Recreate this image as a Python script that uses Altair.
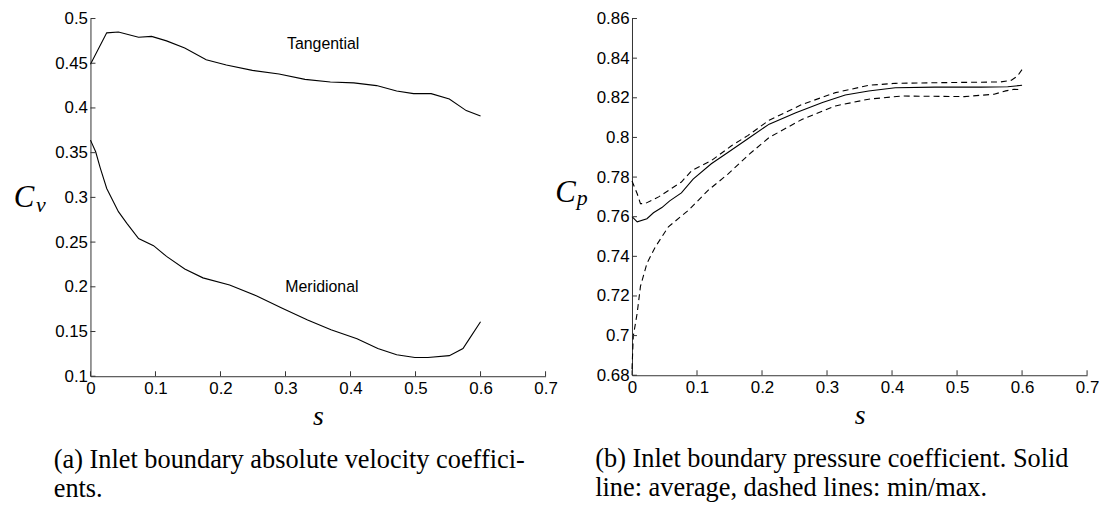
import altair as alt
import pandas as pd

# ---------------- data ----------------
S_TICKS = [0, 0.1, 0.2, 0.3, 0.4, 0.5, 0.6, 0.7]
CV_TICKS = [0.1, 0.15, 0.2, 0.25, 0.3, 0.35, 0.4, 0.45, 0.5]
CP_TICKS = [0.68, 0.7, 0.72, 0.74, 0.76, 0.78, 0.8, 0.82, 0.84, 0.86]

tan_s = [0, 0.025, 0.043, 0.074, 0.094, 0.117, 0.145, 0.178, 0.209, 0.249, 0.290,
         0.330, 0.369, 0.405, 0.440, 0.471, 0.497, 0.524, 0.552, 0.578, 0.600]
tan_v = [0.449, 0.484, 0.485, 0.479, 0.480, 0.475, 0.467, 0.454, 0.448, 0.442, 0.438,
         0.432, 0.429, 0.428, 0.425, 0.419, 0.416, 0.416, 0.410, 0.397, 0.391]

mer_s = [0, 0.008, 0.015, 0.025, 0.043, 0.056, 0.074, 0.097, 0.117, 0.145, 0.173,
         0.214, 0.255, 0.295, 0.334, 0.370, 0.410, 0.442, 0.471, 0.499, 0.519,
         0.552, 0.573, 0.583, 0.600]
mer_v = [0.364, 0.351, 0.333, 0.310, 0.284, 0.271, 0.254, 0.246, 0.234, 0.220, 0.210,
         0.202, 0.190, 0.176, 0.163, 0.152, 0.142, 0.131, 0.124, 0.121, 0.121,
         0.123, 0.131, 0.142, 0.161]

avg_s = [0, 0.008, 0.023, 0.033, 0.046, 0.058, 0.076, 0.094, 0.122, 0.148, 0.181,
         0.211, 0.252, 0.293, 0.328, 0.364, 0.405, 0.466, 0.537, 0.578, 0.600]
avg_v = [0.760, 0.7574, 0.759, 0.762, 0.7646, 0.768, 0.772, 0.779, 0.7867, 0.7925, 0.800,
         0.8067, 0.8125, 0.8176, 0.8214, 0.8234, 0.8251, 0.8254, 0.8254, 0.8256, 0.8263]

max_s = [0, 0.008, 0.013, 0.020, 0.041, 0.076, 0.092, 0.122, 0.153, 0.178, 0.211,
         0.262, 0.313, 0.364, 0.405, 0.466, 0.567, 0.583, 0.593, 0.600]
max_v = [0.778, 0.7716, 0.7666, 0.7666, 0.770, 0.7775, 0.7833, 0.7883, 0.7958, 0.8009, 0.8087,
         0.8167, 0.8226, 0.8263, 0.8273, 0.8276, 0.828, 0.8288, 0.831, 0.8343]

min_s = [0, 0.002, 0.008, 0.013, 0.023, 0.036, 0.056, 0.087, 0.117, 0.148, 0.181,
         0.211, 0.262, 0.313, 0.364, 0.415, 0.511, 0.557, 0.575, 0.588, 0.597]
min_v = [0.683, 0.6997, 0.7114, 0.7248, 0.7365, 0.7448, 0.7549, 0.7633, 0.7733, 0.7816, 0.7917,
         0.800, 0.8092, 0.8159, 0.8193, 0.8209, 0.8206, 0.8218, 0.8235, 0.8243, 0.8241]

label_names = ["Tangential", "Meridional"]
label_s = [0.358, 0.356]
label_v = [0.472, 0.200]

caption_a = ["(a) Inlet boundary absolute velocity coeffici-", "ents."]
caption_b = ["(b) Inlet boundary pressure coefficient. Solid", "line: average, dashed lines: min/max."]

# ---------------- styling ----------------
W = 458
H_A = 360
H_B = 359
TICK = 5
AXC = "#333333"
SANS = "'Liberation Sans', Arial, Helvetica, sans-serif"
SERIF = "'Liberation Serif', 'Times New Roman', Times, serif"


def x_axis():
    return alt.Axis(values=S_TICKS, format=".1~f", ticks=False, grid=False,
                    domainColor=AXC, labelFont=SANS, labelFontSize=17, labelColor="black",
                    labelPadding=4, labelFlush=False, labelOverlap=False,
                    title="s", titleFont=SERIF, titleFontStyle="italic",
                    titleFontWeight="normal", titleFontSize=28, titleColor="black",
                    titlePadding=7)


def y_axis(vals):
    return alt.Axis(values=vals, format=".2~f", ticks=False, grid=False,
                    domainColor=AXC, labelFont=SANS, labelFontSize=17, labelColor="black",
                    labelPadding=3, labelFlush=False, labelOverlap=False, title=None)


def panel(series, xdom, ydom, yticks, H, ylab, ysub, caption, labels=None):
    xs = alt.Scale(domain=xdom, nice=False, zero=False)
    ys = alt.Scale(domain=ydom, nice=False, zero=False)
    X = alt.X("s:Q", scale=xs, axis=x_axis())
    Y = alt.Y("v:Q", scale=ys, axis=y_axis(yticks))
    layers = []
    for name, sv, vv, dash in series:
        df = pd.DataFrame({"s": sv, "v": vv})
        kw = dict(color="black", strokeWidth=1.1)
        if dash:
            kw["strokeDash"] = [6, 4]
        layers.append(alt.Chart(df).mark_line(**kw).encode(x=X, y=Y))
    # inward ticks
    xt = pd.DataFrame({"s": S_TICKS})
    layers.append(alt.Chart(xt).mark_rule(color=AXC, strokeWidth=1).encode(
        x=X, y=alt.value(H), y2=alt.value(H - TICK)))
    yt = pd.DataFrame({"v": yticks})
    layers.append(alt.Chart(yt).mark_rule(color=AXC, strokeWidth=1).encode(
        y=Y, x=alt.value(0), x2=alt.value(TICK)))
    if labels is not None:
        ldf = pd.DataFrame({"label": labels[0], "s": labels[1], "v": labels[2]})
        layers.append(alt.Chart(ldf).mark_text(font=SANS, fontSize=16, color="black",
                                               align="center", baseline="middle").encode(
            x=X, y=Y, text="label:N"))
    one = pd.DataFrame({"k": [0]})
    layers.append(alt.Chart(one).mark_text(font=SERIF, fontStyle="italic", fontSize=31,
                                           color="black", align="center", baseline="middle").encode(
        x=alt.value(-67), y=alt.value(ylab[1]), text=alt.value("C")))
    layers.append(alt.Chart(one).mark_text(font=SERIF, fontStyle="italic", fontSize=22,
                                           color="black", align="center", baseline="middle").encode(
        x=alt.value(-50), y=alt.value(ysub[1]), text=alt.value(ysub[0])))
    layers.append(alt.Chart(one).mark_text(font=SERIF, fontSize=26.5, color="black",
                                           align="left", baseline="middle", lineHeight=30).encode(
        x=alt.value(-37), y=alt.value(H + 84), text=alt.value(caption)))
    return alt.layer(*layers).properties(width=W, height=H)


left = panel([("tan", tan_s, tan_v, False), ("mer", mer_s, mer_v, False)],
             [0, 0.7], [0.1, 0.5], CV_TICKS, H_A, ("C", 181), ("v", 188), caption_a,
             labels=(label_names, label_s, label_v))
right = panel([("avg", avg_s, avg_v, False), ("max", max_s, max_v, True), ("min", min_s, min_v, True)],
              [0, 0.7], [0.68, 0.86], CP_TICKS, H_B, ("C", 176), ("p", 181), caption_b)

chart = alt.hconcat(left, right, spacing=87, bounds="flush").properties(
    padding={"left": 5, "top": 0, "right": 0, "bottom": 0},
    background="white",
).configure_view(stroke=None)

chart.save("out.html", embed_options={"renderer": "svg", "actions": False})
